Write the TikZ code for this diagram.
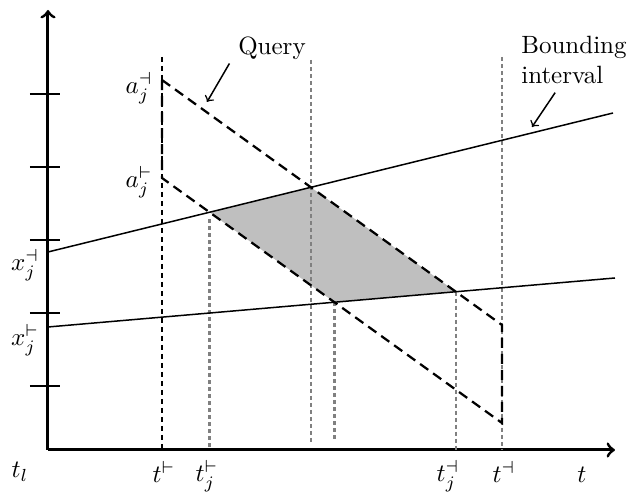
\documentclass[tikz,border=0pt]{standalone}
\usetikzlibrary{positioning}
\begin{document}
\begin{tikzpicture}[x=0.4pt,y=0.4pt,
  axis/.style={line width=1.2pt,->},
  bound/.style={line width=0.6pt},
  query/.style={line width=0.9pt,dash pattern=on 4pt off 2.4pt},
  guide/.style={black!50,line width=1.1pt,dash pattern=on 1.6pt off 1.2pt},
  lbl/.style={inner sep=1pt}]
\useasboundingbox (-48,-48) rectangle (581,450);

\coordinate (o) at (0,0);
\coordinate (top) at (0,390);
\coordinate (low) at (0,8);

% axes
\draw[axis] (o) -- (567,0);
\draw[axis] (o) -- (0,440);
\foreach \y in {64,137,210,283,356}
  \draw[line width=0.8pt] (-18,\y) -- (12,\y);

% bounding interval and query
\coordinate (b1) at (0,198); \coordinate (b2) at (565,337);
\coordinate (c1) at (0,123); \coordinate (c2) at (567,172);
\coordinate (aU) at (114,370); \coordinate (aD) at (114,272);
\coordinate (qU) at (454,125); \coordinate (qD) at (454,27);

\coordinate (p1) at (intersection of aD--qD and b1--b2);
\coordinate (p2) at (intersection of aU--qU and b1--b2);
\coordinate (p3) at (intersection of aU--qU and c1--c2);
\coordinate (p4) at (intersection of aD--qD and c1--c2);

\fill[black!25] (p1) -- (p2) -- (p3) -- (p4) -- cycle;

\draw[guide] (p1) ++(0,-7) -- (p1 |- o);
\draw[guide] (p2 |- top) -- (p2 |- low);
\draw[guide] (p3) -- (p3 |- o);
\draw[guide] (p4) -- (p4 |- low);
\draw[guide] (454,393) -- (454,0);
\draw[line width=0.6pt,dash pattern=on 2pt off 1.6pt] (114,393) -- (114,0);

\draw[bound] (b1) -- (b2);
\draw[bound] (c1) -- (c2);
\draw[query] (aU) -- (qU) -- (qD) -- (aD) -- cycle;

% labels
\node[lbl] (lau) at (91,362) {$a_j^{\dashv}$};
\node[lbl] (lad) at (91,268) {$a_j^{\vdash}$};
\node[lbl] (lxu) at (-23,185) {$x_j^{\dashv}$};
\node[lbl] (lxd) at (-23,110) {$x_j^{\vdash}$};
\node[lbl] (ltl) at (-28,-22) {$t_l$};
\node[lbl] (lts) at (116,-22) {$t^{\vdash}$};
\node[lbl] (ltjs) at (159,-26) {$t_j^{\vdash}$};
\node[lbl] (ltje) at (400,-26) {$t_j^{\dashv}$};
\node[lbl] (lte) at (456,-22) {$t^{\dashv}$};
\node[lbl] (lt) at (534,-25) {$t$};

\node (qlab) at (224,402) {Query};
\coordinate (qtip) at (159,348);
\draw[->,line width=0.6pt] (qlab.200) -- (qtip);

\node[align=left] (bi) at (526,390) {Bounding\\interval};
\coordinate (btip) at (484,323);
\draw[->,line width=0.6pt] (bi.240) -- (btip);
\end{tikzpicture}
\end{document}
